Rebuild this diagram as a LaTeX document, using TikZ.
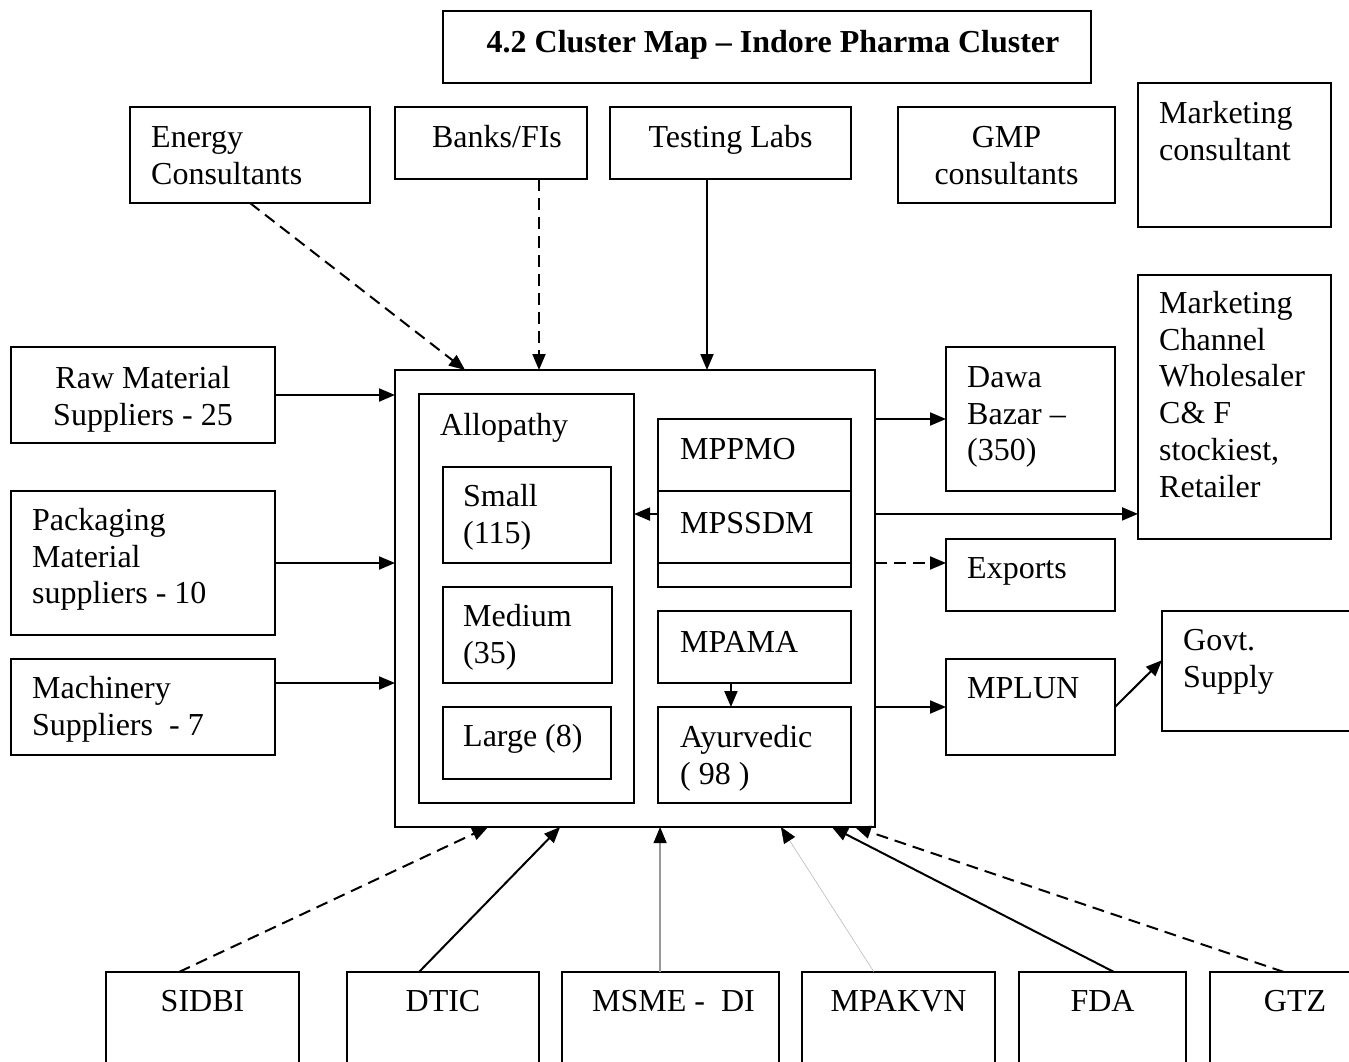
\documentclass[tikz,border=0pt]{standalone}
\usepackage{fontspec}
\setmainfont{Liberation Serif}
\usetikzlibrary{arrows.meta,calc}
\newcommand\mkbox[5]{\node[bx,minimum width={(#4)-(#2)},minimum height={(#5)-(#3)}] (#1) at (#2,#3) {};}
\newcommand\txtL[4]{\node[txt,anchor=north west,align=left] (#1t) at ([xshift=#2pt,yshift={(25.76-#3)*1pt}]#1.north west) {\strut #4};}
\newcommand\txtC[4]{\node[txt,anchor=north,align=center] (#1t) at ([xshift=#2pt,yshift={(25.76-#3)*1pt}]#1.north) {\strut #4};}
\begin{document}
\begin{tikzpicture}[x=1pt,y=-1pt,
  bx/.style={draw,rectangle,line width=2pt,inner sep=0pt,outer sep=0pt,anchor=north west},
  txt/.style={inner sep=0pt,font=\fontsize{32}{36.8}\selectfont},
  arr/.style={line width=2pt,-{Triangle[length=16pt,width=13pt,color=black]}},
  dsh/.style={dash pattern=on 12pt off 7pt}]
\path[use as bounding box] (0,0) rectangle (1349,1061);
\fill[white] (0,0) rectangle (1349,1061);
\clip (0,0) rectangle (1349,1061);

% boxes
\mkbox{title}{443}{11}{1091}{83}
\mkbox{energy}{130}{107}{370}{203}
\mkbox{banks}{395}{107}{587}{179}
\mkbox{testing}{610}{107}{851}{179}
\mkbox{gmp}{898}{107}{1115}{203}
\mkbox{mcons}{1138}{83}{1331}{227}
\mkbox{raw}{11}{347}{275}{443}
\mkbox{pack}{11}{491}{275}{635}
\mkbox{mach}{11}{659}{275}{755}
\mkbox{main}{395}{370}{875}{827}
\mkbox{allo}{419}{394}{634}{803}
\mkbox{small}{443}{467}{611}{563}
\mkbox{medium}{443}{587}{612}{683}
\mkbox{large}{443}{707}{611}{779}
\mkbox{mppmo}{658}{419}{851}{491}
\mkbox{mpssdm}{658}{491}{851}{563}
\mkbox{mpblank}{658}{563}{851}{587}
\mkbox{mpama}{658}{611}{851}{683}
\mkbox{ayur}{658}{707}{851}{803}
\mkbox{dawa}{946}{347}{1115}{491}
\mkbox{mc}{1138}{275}{1331}{539}
\mkbox{exports}{946}{539}{1115}{611}
\mkbox{mplun}{946}{659}{1115}{755}
\mkbox{govt}{1162}{611}{1400}{731}
\mkbox{sidbi}{106}{972}{299}{1100}
\mkbox{dtic}{347}{972}{539}{1100}
\mkbox{msme}{562}{972}{779}{1100}
\mkbox{mpakvn}{802}{972}{995}{1100}
\mkbox{fda}{1019}{972}{1186}{1100}
\mkbox{gtz}{1210}{972}{1380}{1100}

% texts
\txtC{title}{6}{41}{\bfseries 4.2 Cluster Map – Indore Pharma Cluster}
\txtL{energy}{21}{40}{Energy\\Consultants}
\txtC{banks}{6}{40}{Banks/FIs}
\txtC{testing}{0}{40}{Testing Labs}
\txtC{gmp}{0}{40}{GMP\\consultants}
\txtL{mcons}{21}{40}{Marketing\\consultant}
\txtC{raw}{0}{41}{Raw Material\\Suppliers - 25}
\txtL{pack}{21}{39}{Packaging\\Material\\suppliers - 10}
\txtL{mach}{21}{39}{Machinery\\Suppliers\ \ - 7}
\txtL{allo}{21}{41}{Allopathy}
\txtL{small}{20}{39}{Small\\(115)}
\txtL{medium}{20}{39}{Medium\\(35)}
\txtL{large}{20}{39}{Large (8)}
\txtL{mppmo}{22}{40}{MPPMO}
\txtL{mpssdm}{22}{42}{MPSSDM}
\txtL{mpama}{22}{41}{MPAMA}
\txtL{ayur}{22}{40}{Ayurvedic\\( 98 )}
\txtL{dawa}{21}{40}{Dawa\\Bazar –\\(350)}
\txtL{mc}{21}{38}{Marketing\\Channel\\Wholesaler\\C\& F\\stockiest,\\Retailer}
\txtL{exports}{21}{39}{Exports}
\txtL{mplun}{21}{39}{MPLUN}
\txtL{govt}{21}{39}{Govt.\\Supply}
\txtC{sidbi}{0}{39}{SIDBI}
\txtC{dtic}{0}{39}{DTIC}
\txtC{msme}{3}{39}{MSME -\ \ DI}
\txtC{mpakvn}{0}{39}{MPAKVN}
\txtC{fda}{0}{39}{FDA}
\txtC{gtz}{0}{39}{GTZ}

% left arrows
\draw[arr] (raw.east) -- (raw.east -| main.west);
\draw[arr] (pack.east) -- (pack.east -| main.west);
\coordinate (mA) at ($(mach.north east)!0.25!(mach.south east)$);
\draw[arr] (mA) -- (mA -| main.west);

% top arrows
\draw[arr,dsh] (energy.south) -- ($(main.north west)!0.146!(main.north east)$);
\coordinate (bA) at ($(banks.south west)!0.75!(banks.south east)$);
\draw[arr,dsh] (bA) -- (bA |- main.north);
\coordinate (tA) at ($(testing.south west)!0.4025!(testing.south east)$);
\draw[arr] (tA) -- (tA |- main.north);

% right arrows
\draw[arr] (dawa.west -| main.east) -- (dawa.west);
\coordinate (mcA) at ($(mc.north west)!0.905!(mc.south west)$);
\draw[arr] (mcA -| main.east) -- (mcA);
\coordinate (exA) at ($(exports.north west)!0.333!(exports.south west)$);
\draw[arr,dsh] (exA -| main.east) -- (exA);
\draw[arr] (mplun.west -| main.east) -- (mplun.west);
\draw[arr] (mplun.east) -- ($(govt.north west)!0.41!(govt.south west)$);

% inner arrows
\coordinate (ssA) at ($(mpssdm.north west)!0.32!(mpssdm.south west)$);
\draw[arr] (ssA) -- (ssA -| allo.east);
\coordinate (amA) at ($(mpama.south west)!0.378!(mpama.south east)$);
\draw[arr] (amA) -- (amA |- ayur.north);

% bottom arrows
\draw[arr,dsh] ($(sidbi.north west)!0.378!(sidbi.north east)$) -- ($(main.south west)!0.194!(main.south east)$);
\draw[arr] ($(dtic.north west)!0.375!(dtic.north east)$) -- ($(main.south west)!0.344!(main.south east)$);
\coordinate (msA) at ($(msme.north west)!0.452!(msme.north east)$);
\draw[arr,line width=1.2pt,draw=black!40] (msA) -- (msA |- main.south);
\draw[arr,line width=0.5pt,draw=black!30] ($(mpakvn.north west)!0.373!(mpakvn.north east)$) -- ($(main.south west)!0.804!(main.south east)$);
\draw[arr] ($(fda.north west)!0.569!(fda.north east)$) -- ($(main.south west)!0.910!(main.south east)$);
\draw[arr,dsh] ($(gtz.north west)!0.435!(gtz.north east)$) -- ($(main.south west)!0.958!(main.south east)$);
\end{tikzpicture}
\end{document}
